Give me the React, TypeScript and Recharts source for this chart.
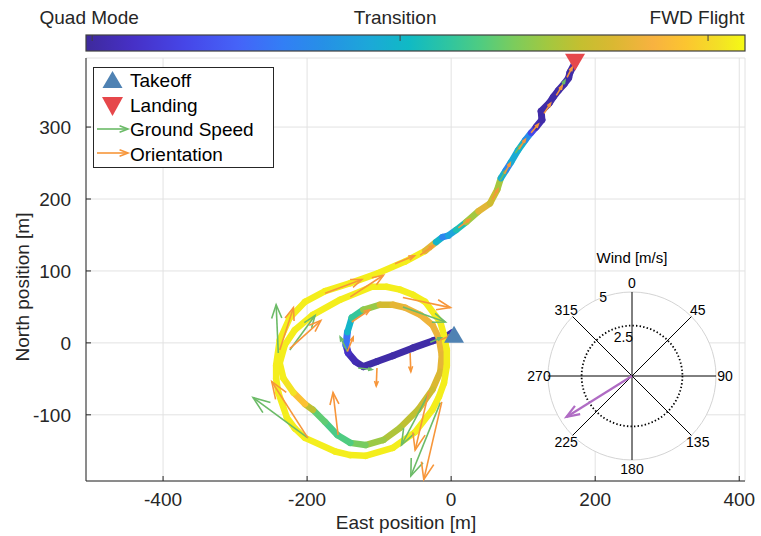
import React from "react";
import { ScatterChart, Scatter, XAxis, YAxis, CartesianGrid } from "recharts";

const FONT = '"Liberation Sans", Arial, Helvetica, sans-serif';
const INK = "#262626";
const GREEN = "#6cbb68";
const ORANGE = "#f7963a";

// flight path: East / North [m], flight mode on the colour scale (0 quad, 1 transition, 2 FWD)
const pathEast = [
  1, -8, -25, -53, -81, -103, -122, -133, -143, -146,
  -144, -138, -122, -99, -81, -64, -43, -26, -17, -13,
  -15, -26, -46, -71, -94, -119, -140, -158, -175, -192,
  -203, -219, -233, -238, -231, -217, -192, -154, -110, -90,
  -71, -53, -36, -15, -10, -6, -6, -10, -17, -26,
  -50, -81, -119, -140, -161, -203, -217, -228, -240, -243,
  -243, -238, -224, -203, -175, -140, -101, -64, -36, -21,
  -12, -4, 7, 21, 38, 54, 64, 69, 76, 83,
  93, 103, 111, 118, 126, 125, 136, 142, 149, 157,
  163, 165, 172,
];
const pathNorth = [
  14, 8, 3, -7, -18, -26, -33, -26, -14, -3,
  15, 35, 46, 53, 53, 49, 39, 25, 7, -17,
  -40, -65, -93, -118, -135, -142, -139, -128, -110, -93,
  -85, -69, -49, -28, -3, 18, 39, 60, 78, 78,
  74, 67, 57, 29, 11, -10, -32, -56, -75, -93,
  -124, -146, -157, -156, -151, -132, -119, -104, -69, -50,
  -31, 4, 35, 57, 72, 83, 97, 113, 128, 140,
  147, 149, 157, 168, 183, 194, 213, 229, 240, 251,
  268, 282, 292, 300, 310, 322, 333, 342, 351, 360,
  368, 376, 389,
];
const pathMode = [
  0.02, 0.02, 0.02, 0.02, 0.02, 0.02, 0.02, 0.04, 0.09, 0.19,
  0.94, 1.05, 1.3, 1.6, 1.72, 1.76, 1.78, 1.78, 1.76, 1.76,
  1.72, 1.66, 1.6, 1.54, 1.5, 1.42, 1.3, 1.22, 1.26, 1.34,
  1.8, 2.01, 2.08, 2.08, 2.08, 2.08, 2.08, 2.08, 2.08, 2.08,
  2.08, 2.08, 2.08, 2.08, 2.08, 2.08, 2.08, 2.08, 2.08, 2.08,
  2.08, 2.08, 2.08, 2.08, 2.08, 2.08, 2.08, 2.08, 2.08, 2.08,
  2.08, 2.08, 2.08, 2.08, 2.08, 2.08, 2.08, 2.08, 2.08, 1.37,
  0.62, 0.73, 1.01, 1.16, 1.8, 1.65, 1.61, 1.37, 0.52, 0.84,
  1.01, 0.94, 0.52, 0.09, 0.02, 0.02, 0.02, 0.02, 0.02, 0.02,
  0.02, 0.02, 0.02,
];

// quiver arrows: [east0, north0, east1, north1]
const groundSpeedArrows = [
  [-240, -14, -243, 53],
  [-224, -10, -189, 38],
  [-199, -132, -275, -76],
  [-144, -12, -154, 8],
  [-67, 50, -8, 29],
  [-129, -35, -110, -37],
  [-32, -72, -69, -142],
  [-15, -83, -56, -185],
  [-29, 1, -14, 7],
  [68, 226, 76, 240],
  [89, 264, 97, 275],
  [150, 351, 158, 365],
];
const orientationArrows = [
  [-238, -10, -219, 49],
  [-224, -8, -181, 31],
  [-175, 69, -124, 88],
  [-140, 64, -94, 94],
  [-199, -132, -249, -54],
  [-157, -128, -164, -69],
  [-144, -12, -136, 8],
  [-67, 63, -1, 49],
  [-57, -14, -56, -40],
  [-103, -35, -104, -60],
  [-31, -68, -50, -149],
  [-13, -82, -38, -190],
  [-15, 4, 1, 11],
  [-78, 110, -51, 121],
  [-43, 122, -25, 135],
  [10, 160, 26, 172],
  [57, 199, 65, 214],
  [74, 235, 82, 250],
  [94, 269, 103, 283],
  [111, 292, 121, 304],
  [129, 319, 138, 333],
  [146, 344, 154, 357],
  [161, 369, 168, 383],
  [-138, 29, -113, 46],
];

const takeoffPos = [4, 12];
const landingPos = [172, 390];

const xTicks = [-400, -200, 0, 200, 400];
const yTicks = [-100, 0, 100, 200, 300];
const xDomain = [-507, 408];
const yDomain = [-192, 396];

// colour bar
const modeLabels = ["Quad Mode", "Transition", "FWD Flight"];
const modeTicks = [0, 1, 2];
const modeLimits = [-0.02, 2.12];
const parulaStops: [number, string][] = [
  [0.0, "#3e2a9c"], [0.07, "#4630c6"], [0.15, "#4646e8"], [0.23, "#4563f8"],
  [0.3, "#327ff5"], [0.36, "#2690e6"], [0.43, "#1ca8d8"], [0.49, "#10bac4"],
  [0.55, "#2fc5a0"], [0.6, "#50cc80"], [0.65, "#7ccc5c"], [0.7, "#a2c840"],
  [0.75, "#c4bf30"], [0.8, "#dab832"], [0.86, "#f8b240"], [0.91, "#fcc530"],
  [0.96, "#f3e026"], [1.0, "#f5fa14"],
];

// wind inset
const windSpeed = 4.6;
const windDir = 238;
const windLimit = 3;
const windRTicks = [2.5, 5];
const windRMax = 5;
const windAngles = [0, 45, 90, 135, 180, 225, 270, 315];

const hex = (c: string) => [1, 3, 5].map((i) => parseInt(c.slice(i, i + 2), 16));
function parula(f: number) {
  const t = Math.max(0, Math.min(1, f));
  for (let i = 1; i < parulaStops.length; i++) {
    const [f1, c1] = parulaStops[i];
    if (t <= f1) {
      const [f0, c0] = parulaStops[i - 1];
      const k = (t - f0) / (f1 - f0);
      const a = hex(c0), b = hex(c1);
      return `rgb(${a.map((v, j) => Math.round(v + (b[j] - v) * k)).join(",")})`;
    }
  }
  return parulaStops[parulaStops.length - 1][1];
}
const modeColor = (m: number) => parula((m - modeLimits[0]) / (modeLimits[1] - modeLimits[0]));

function Arrow({ x1, y1, x2, y2, color, width = 1.6, maxHead = 18 }: any) {
  const len = Math.hypot(x2 - x1, y2 - y1);
  const a = Math.atan2(y2 - y1, x2 - x1);
  const h = Math.min(maxHead, Math.max(4, len * 0.3));
  const s = 0.36;
  const p1 = [x2 - h * Math.cos(a - s), y2 - h * Math.sin(a - s)];
  const p2 = [x2 - h * Math.cos(a + s), y2 - h * Math.sin(a + s)];
  return (
    <g>
      <line x1={x1} y1={y1} x2={x2} y2={y2} stroke={color} strokeWidth={width} />
      <polyline
        points={`${p1[0]},${p1[1]} ${x2},${y2} ${p2[0]},${p2[1]}`}
        fill="none"
        stroke={color}
        strokeWidth={width}
      />
    </g>
  );
}

const pathData = pathEast.map((x, i) => ({ x, y: pathNorth[i] }));
const flatten = (arr: number[][]) =>
  arr.flatMap(([x0, y0, x1, y1]) => [{ x: x0, y: y0 }, { x: x1, y: y1 }]);

const noShape = () => <g />;

// colour each piece of the path by the flight mode
const trajectoryLine = (props: any) => {
  const pts = props.points || [];
  const segs = [];
  for (let i = 0; i + 1 < pts.length; i++) {
    const c = modeColor((pathMode[i] + pathMode[i + 1]) / 2);
    segs.push(
      <line
        key={i}
        x1={pts[i].x}
        y1={pts[i].y}
        x2={pts[i + 1].x}
        y2={pts[i + 1].y}
        stroke={c}
        strokeWidth={pathMode[i] < 0.3 ? 7 : 6.5}
        strokeLinecap="round"
      />
    );
  }
  return <g>{segs}</g>;
};

const quiverLine = (color: string) => (props: any) => {
  const pts = props.points || [];
  const out = [];
  for (let i = 0; i + 1 < pts.length; i += 2) {
    out.push(
      <Arrow key={i} x1={pts[i].x} y1={pts[i].y} x2={pts[i + 1].x} y2={pts[i + 1].y} color={color} />
    );
  }
  return <g>{out}</g>;
};

const triangle = (color: string, down: boolean) => (p: any) => {
  const { cx, cy } = p;
  const w = 10, h = 8.5;
  const pts = down
    ? `${cx - w},${cy - h} ${cx + w},${cy - h} ${cx},${cy + h}`
    : `${cx - w},${cy + h} ${cx + w},${cy + h} ${cx},${cy - h}`;
  return <polygon points={pts} fill={color} />;
};

const tickStyle = { fill: INK, fontSize: 19, fontFamily: FONT };

// polar inset geometry
const PC = { x: 632, y: 376, r: 84 };
const rScale = (v: number) => (v / windRMax) * PC.r;
const polar = (deg: number, r: number) => {
  const b = (deg * Math.PI) / 180;
  return [PC.x + r * Math.sin(b), PC.y - r * Math.cos(b)];
};

function Overlay() {
  const barX = 86, barY = 35, barW = 659, barH = 16;
  const tickX = (v: number) => barX + ((v - modeLimits[0]) / (modeLimits[1] - modeLimits[0])) * barW;
  const labelShift = [-3, -5, -11];
  const windTip = polar(windDir, rScale(windSpeed));
  return (
    <svg
      width={761}
      height={536}
      style={{ position: "absolute", left: 0, top: 0, pointerEvents: "none" }}
      fontFamily={FONT}
    >
      <defs>
        <linearGradient id="parulaBar" x1="0" x2="1" y1="0" y2="0">
          {parulaStops.map(([f, c]) => (
            <stop key={f} offset={f} stopColor={c} />
          ))}
        </linearGradient>
      </defs>
      {/* colour bar */}
      <rect x={barX} y={barY} width={barW} height={barH} fill="url(#parulaBar)" stroke="#404040" strokeWidth={1.2} />
      {modeTicks.map((v, i) => (
        <g key={v}>
          <line x1={tickX(v)} x2={tickX(v)} y1={barY} y2={barY + 6} stroke="#404040" strokeWidth={1} />
          <text x={tickX(v) + labelShift[i]} y={24} textAnchor="middle" fontSize={19} fill={INK}>
            {modeLabels[i]}
          </text>
        </g>
      ))}

      {/* axis titles */}
      <text x={406} y={529} textAnchor="middle" fontSize={19} fill={INK}>
        East position [m]
      </text>
      <text transform="translate(29,287) rotate(-90)" textAnchor="middle" fontSize={19} fill={INK}>
        North position [m]
      </text>

      {/* legend */}
      <rect x={93.5} y={67.5} width={180} height={100} fill="#fff" stroke={INK} strokeWidth={1} />
      <polygon points="102.5,88 122.5,88 112.5,71" fill="#4f82b3" />
      <polygon points="102,97 123,97 112.5,116" fill="#e6474b" />
      <Arrow x1={97} y1={129} x2={128} y2={129} color={GREEN} maxHead={9} />
      <Arrow x1={97} y1={153} x2={128} y2={153} color={ORANGE} maxHead={9} />
      {["Takeoff", "Landing", "Ground Speed", "Orientation"].map((t, i) => (
        <text key={t} x={130} y={87 + i * 24.5} fontSize={19} fill="#000">
          {t}
        </text>
      ))}

      {/* wind polar inset */}
      <circle cx={PC.x} cy={PC.y} r={PC.r} fill="#fff" stroke="#d4d4d4" strokeWidth={1} />
      {windAngles.slice(0, 4).map((a) => {
        const p = polar(a, PC.r), q = polar(a + 180, PC.r);
        return <line key={a} x1={p[0]} y1={p[1]} x2={q[0]} y2={q[1]} stroke="#000" strokeWidth={1} />;
      })}
      <circle cx={PC.x} cy={PC.y} r={rScale(windLimit)} fill="none" stroke="#000" strokeWidth={1.8} strokeDasharray="1.4 2.2" />
      {windAngles.map((a) => {
        const p = polar(a, PC.r + 9);
        return (
          <text key={a} x={p[0]} y={p[1] + 5} textAnchor="middle" fontSize={14} fill="#000">
            {a}
          </text>
        );
      })}
      {windRTicks.map((v) => {
        const p = polar(-20, rScale(v));
        return (
          <text key={v} x={p[0] - 4} y={p[1] + 5} fontSize={14} fill="#000">
            {v}
          </text>
        );
      })}
      <Arrow x1={PC.x} y1={PC.y} x2={windTip[0]} y2={windTip[1]} color="#b06cc4" width={2.2} maxHead={14} />
      <text x={PC.x} y={263} textAnchor="middle" fontSize={15} fill="#000">
        Wind [m/s]
      </text>
    </svg>
  );
}

export default function App() {
  return (
    <div style={{ position: "absolute", left: 0, top: 0, width: 761, height: 536, background: "#fff" }}>
      <ScatterChart width={761} height={536} margin={{ top: 58, right: 16, bottom: 0, left: 0 }}>
        <CartesianGrid stroke="#e2e2e2" strokeWidth={1} />
        <XAxis
          type="number"
          dataKey="x"
          domain={xDomain}
          ticks={xTicks}
          height={55}
          tick={tickStyle}
          tickSize={-5}
          tickMargin={17}
          axisLine={{ stroke: INK }}
          tickLine={{ stroke: INK }}
        />
        <XAxis
          xAxisId="top"
          orientation="top"
          type="number"
          dataKey="x"
          domain={xDomain}
          ticks={xTicks}
          height={0}
          tick={false}
          tickSize={-5}
          axisLine={{ stroke: INK }}
          tickLine={{ stroke: INK }}
        />
        <YAxis
          type="number"
          dataKey="y"
          domain={yDomain}
          ticks={yTicks}
          width={86}
          tick={tickStyle}
          tickSize={-5}
          tickMargin={20}
          axisLine={{ stroke: INK }}
          tickLine={{ stroke: INK }}
        />
        <YAxis
          yAxisId="right"
          orientation="right"
          type="number"
          dataKey="y"
          domain={yDomain}
          ticks={yTicks}
          width={0}
          tick={false}
          tickSize={-5}
          axisLine={{ stroke: INK }}
          tickLine={{ stroke: INK }}
        />
        <Scatter
          name="trajectory"
          data={pathData}
          shape={noShape}
          line={trajectoryLine}
          isAnimationActive={false}
        />
        <Scatter
          name="Ground Speed"
          data={flatten(groundSpeedArrows)}
          shape={noShape}
          line={quiverLine(GREEN)}
          isAnimationActive={false}
        />
        <Scatter
          name="Orientation"
          data={flatten(orientationArrows)}
          shape={noShape}
          line={quiverLine(ORANGE)}
          isAnimationActive={false}
        />
        <Scatter
          name="Takeoff"
          data={[{ x: takeoffPos[0], y: takeoffPos[1] }]}
          shape={triangle("#4f82b3", false)}
          isAnimationActive={false}
        />
        <Scatter
          name="Landing"
          data={[{ x: landingPos[0], y: landingPos[1] }]}
          shape={triangle("#e6474b", true)}
          isAnimationActive={false}
        />
      </ScatterChart>
      <Overlay />
    </div>
  );
}
